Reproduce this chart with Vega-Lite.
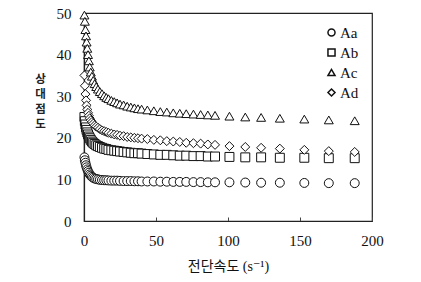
{
  "$schema": "https://vega.github.io/schema/vega-lite/v6.json",
  "autosize": "none",
  "width": 288,
  "height": 208,
  "padding": {"left": 84, "top": 13, "right": 49, "bottom": 61},
  "background": "white",
  "config": {
    "view": {"stroke": "#222", "strokeWidth": 1.2},
    "font": "Liberation Serif"
  },
  "data": {
    "values": [
      {"x": 0.3, "Aa": 15.3, "Ab": 25.0, "Ac": 49.5, "Ad": 35.0},
      {"x": 0.6, "Aa": 14.6, "Ab": 24.0, "Ac": 48.0, "Ad": 32.5},
      {"x": 1.0, "Aa": 14.0, "Ab": 23.2, "Ac": 46.0, "Ad": 30.5},
      {"x": 1.4, "Aa": 13.4, "Ab": 22.5, "Ac": 44.5, "Ad": 29.0},
      {"x": 1.8, "Aa": 12.9, "Ab": 21.9, "Ac": 43.0, "Ad": 27.8},
      {"x": 2.3, "Aa": 12.4, "Ab": 21.3, "Ac": 41.5, "Ad": 26.8},
      {"x": 2.8, "Aa": 12.0, "Ab": 20.8, "Ac": 40.0, "Ad": 26.0},
      {"x": 3.4, "Aa": 11.6, "Ab": 20.3, "Ac": 38.5, "Ad": 25.3},
      {"x": 4.0, "Aa": 11.2, "Ab": 19.9, "Ac": 37.0, "Ad": 24.7},
      {"x": 4.7, "Aa": 10.9, "Ab": 19.5, "Ac": 35.8, "Ad": 24.2},
      {"x": 5.5, "Aa": 10.6, "Ab": 19.1, "Ac": 34.8, "Ad": 23.8},
      {"x": 6.4, "Aa": 10.4, "Ab": 18.8, "Ac": 33.8, "Ad": 23.4},
      {"x": 7.4, "Aa": 10.2, "Ab": 18.5, "Ac": 33.0, "Ad": 23.0},
      {"x": 8.5, "Aa": 10.1, "Ab": 18.2, "Ac": 32.3, "Ad": 22.7},
      {"x": 9.7, "Aa": 10.0, "Ab": 18.0, "Ac": 31.7, "Ad": 22.4},
      {"x": 11, "Aa": 9.9, "Ab": 17.8, "Ac": 31.1, "Ad": 22.1},
      {"x": 12.5, "Aa": 9.85, "Ab": 17.6, "Ac": 30.6, "Ad": 21.8},
      {"x": 14, "Aa": 9.8, "Ab": 17.4, "Ac": 30.1, "Ad": 21.6},
      {"x": 15.5, "Aa": 9.8, "Ab": 17.3, "Ac": 29.7, "Ad": 21.4},
      {"x": 17, "Aa": 9.75, "Ab": 17.1, "Ac": 29.4, "Ad": 21.2},
      {"x": 19, "Aa": 9.7, "Ab": 17.0, "Ac": 29.0, "Ad": 21.0},
      {"x": 21, "Aa": 9.7, "Ab": 16.9, "Ac": 28.7, "Ad": 20.8},
      {"x": 23, "Aa": 9.7, "Ab": 16.8, "Ac": 28.4, "Ad": 20.7},
      {"x": 25, "Aa": 9.65, "Ab": 16.7, "Ac": 28.1, "Ad": 20.5},
      {"x": 27.5, "Aa": 9.6, "Ab": 16.6, "Ac": 27.9, "Ad": 20.4},
      {"x": 30, "Aa": 9.6, "Ab": 16.5, "Ac": 27.6, "Ad": 20.2},
      {"x": 32.5, "Aa": 9.6, "Ab": 16.4, "Ac": 27.4, "Ad": 20.1},
      {"x": 35, "Aa": 9.55, "Ab": 16.3, "Ac": 27.2, "Ad": 20.0},
      {"x": 37.5, "Aa": 9.55, "Ab": 16.3, "Ac": 27.0, "Ad": 19.9},
      {"x": 40, "Aa": 9.5, "Ab": 16.2, "Ac": 26.9, "Ad": 19.8},
      {"x": 44, "Aa": 9.5, "Ab": 16.1, "Ac": 26.7, "Ad": 19.7},
      {"x": 48.5, "Aa": 9.5, "Ab": 16.0, "Ac": 26.5, "Ad": 19.5},
      {"x": 53, "Aa": 9.45, "Ab": 15.9, "Ac": 26.3, "Ad": 19.4},
      {"x": 57.5, "Aa": 9.45, "Ab": 15.9, "Ac": 26.2, "Ad": 19.2},
      {"x": 62, "Aa": 9.4, "Ab": 15.8, "Ac": 26.0, "Ad": 19.1},
      {"x": 66.5, "Aa": 9.4, "Ab": 15.7, "Ac": 25.9, "Ad": 19.0},
      {"x": 71, "Aa": 9.4, "Ab": 15.7, "Ac": 25.8, "Ad": 18.8},
      {"x": 76, "Aa": 9.35, "Ab": 15.6, "Ac": 25.7, "Ad": 18.7},
      {"x": 81, "Aa": 9.35, "Ab": 15.6, "Ac": 25.6, "Ad": 18.6},
      {"x": 86, "Aa": 9.3, "Ab": 15.5, "Ac": 25.5, "Ad": 18.4},
      {"x": 91, "Aa": 9.3, "Ab": 15.5, "Ac": 25.4, "Ad": 18.3},
      {"x": 101, "Aa": 9.3, "Ab": 15.4, "Ac": 25.2, "Ad": 18.0},
      {"x": 112, "Aa": 9.25, "Ab": 15.3, "Ac": 25.0, "Ad": 17.8},
      {"x": 123, "Aa": 9.2, "Ab": 15.3, "Ac": 24.9, "Ad": 17.6},
      {"x": 136, "Aa": 9.2, "Ab": 15.2, "Ac": 24.7, "Ad": 17.4},
      {"x": 153, "Aa": 9.15, "Ab": 15.2, "Ac": 24.5, "Ad": 17.1},
      {"x": 170, "Aa": 9.1, "Ab": 15.1, "Ac": 24.3, "Ad": 16.8},
      {"x": 188, "Aa": 9.1, "Ab": 15.1, "Ac": 24.1, "Ad": 16.6}
    ]
  },
  "transform": [
    {"fold": ["Aa", "Ab", "Ac", "Ad"], "as": ["sample", "viscosity"]}
  ],
  "mark": {
    "type": "point",
    "filled": false,
    "color": "#111",
    "fill": "white",
    "fillOpacity": 1,
    "strokeWidth": 1,
    "opacity": 1,
    "size": 80
  },
  "encoding": {
    "x": {
      "field": "x",
      "type": "quantitative",
      "scale": {"domain": [0, 200], "nice": false},
      "axis": {
        "values": [0, 50, 100, 150, 200],
        "title": "전단속도  (s⁻¹)",
        "titleFont": "Liberation Serif, DejaVu Serif, Noto Sans CJK KR",
        "titleFontSize": 14,
        "titleFontWeight": "normal",
        "titleColor": "#111",
        "titleBaseline": "top",
        "titleY": 38,
        "labelFontSize": 15,
        "labelColor": "#111",
        "labelPadding": 16,
        "labelFlush": false,
        "domainColor": "#222",
        "domainWidth": 1.2,
        "ticks": true,
        "tickSize": -4,
        "tickColor": "#444",
        "grid": false
      }
    },
    "y": {
      "field": "viscosity",
      "type": "quantitative",
      "scale": {"domain": [0, 50], "nice": false},
      "axis": {
        "values": [0, 10, 20, 30, 40, 50],
        "title": ["상", "대", "점", "도"],
        "titleFont": "Noto Sans CJK KR",
        "titleFontSize": 11.5,
        "titleFontWeight": "bold",
        "titleLineHeight": 15,
        "titleColor": "#222",
        "titleAngle": 0,
        "titleAlign": "center",
        "titleBaseline": "top",
        "titleX": -44,
        "titleY": 60,
        "labelFontSize": 15,
        "labelColor": "#111",
        "labelPadding": 13,
        "labelFlush": false,
        "domainColor": "#222",
        "domainWidth": 1.2,
        "ticks": false,
        "grid": false
      }
    },
    "shape": {
      "field": "sample",
      "type": "nominal",
      "scale": {
        "domain": ["Aa", "Ab", "Ac", "Ad"],
        "range": ["circle", "square", "triangle-up", "diamond"]
      },
      "legend": {
        "title": null,
        "orient": "none",
        "legendX": 240,
        "legendY": 12,
        "labelFont": "Liberation Serif",
        "labelFontSize": 15,
        "labelColor": "#111",
        "labelOffset": 1,
        "rowPadding": 4,
        "symbolSize": 50,
        "encode": {
          "symbols": {
            "update": {
              "stroke": {"value": "#111"},
              "fill": {"value": "white"},
              "strokeWidth": {"value": 1},
              "opacity": {"value": 1}
            }
          }
        }
      }
    }
  }
}
